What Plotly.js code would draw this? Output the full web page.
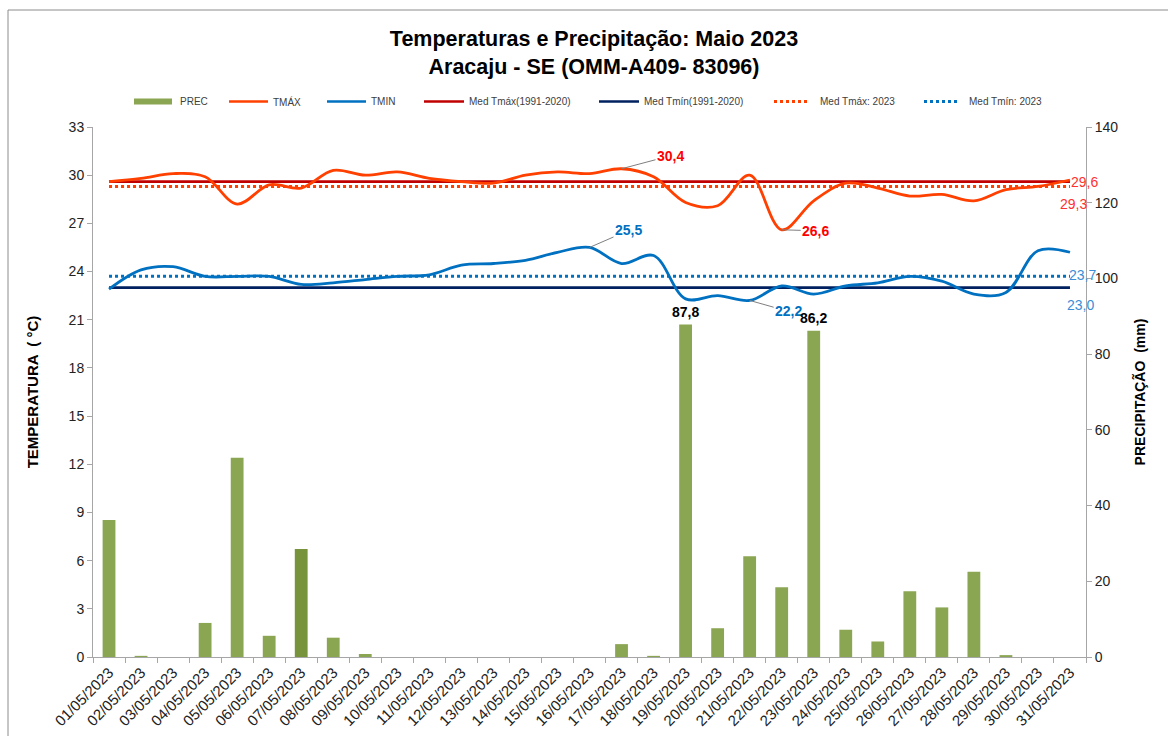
<!DOCTYPE html>
<html>
<head>
<meta charset="utf-8">
<script src="https://cdn.plot.ly/plotly-3.0.1.min.js"></script>
<style>html,body{margin:0;padding:0;background:#fff;}#chart{width:1168px;height:736px;}</style>
</head>
<body>
<div id="chart"></div>
<script>
// ---- data ----
const days = ['01/05/2023','02/05/2023','03/05/2023','04/05/2023','05/05/2023','06/05/2023','07/05/2023','08/05/2023','09/05/2023','10/05/2023',
  '11/05/2023','12/05/2023','13/05/2023','14/05/2023','15/05/2023','16/05/2023','17/05/2023','18/05/2023','19/05/2023','20/05/2023',
  '21/05/2023','22/05/2023','23/05/2023','24/05/2023','25/05/2023','26/05/2023','27/05/2023','28/05/2023','29/05/2023','30/05/2023','31/05/2023'];
const prec = [36.2,0.3,0,9.0,52.6,5.6,28.5,5.1,0.8,0,0,0,0,0,0,0,3.4,0.3,87.8,7.6,26.6,18.4,86.2,7.2,4.1,17.4,13.1,22.5,0.5,0,0];
const tmax = [29.6,29.8,30.1,29.9,28.2,29.4,29.2,30.3,30.0,30.2,29.8,29.6,29.5,30.0,30.2,30.1,30.4,29.9,28.3,28.1,30.0,26.6,28.4,29.5,29.2,28.7,28.8,28.4,29.1,29.3,29.7];
const tmin = [22.9,24.1,24.3,23.7,23.7,23.7,23.2,23.3,23.5,23.7,23.8,24.4,24.5,24.7,25.2,25.5,24.5,25.0,22.3,22.5,22.2,23.1,22.6,23.1,23.3,23.7,23.4,22.6,22.7,25.3,25.2];
const medTmaxNormal = 29.6;   // Med Tmáx(1991-2020)
const medTminNormal = 23.0;   // Med Tmín(1991-2020)
const medTmax2023 = 29.3;
const medTmin2023 = 23.7;
const legendNames = ['PREC','TMÁX','TMIN','Med Tmáx(1991-2020)','Med Tmín(1991-2020)','Med Tmáx: 2023','Med Tmín: 2023'];

// ---- styles ----
const C = {
  prec:'#8BA652', precDark:'#77933C', tmax:'#FF4000', tmin:'#0070C0',
  medTmax:'#C00000', medTmin:'#002060', axis:'#A6A6A6', text:'#404040'
};
const FONT = 'Liberation Sans, Arial, sans-serif';
const M = {l:93, r:82, t:127, b:79};
const W = 1168, H = 736;
const PW = W - M.l - M.r, PH = H - M.t - M.b;
const px = x => (x - M.l) / PW;
const py = y => (H - M.b - y) / PH;
const fmt = v => v.toFixed(1).replace('.', ',');
const fill = v => days.map(() => v);

const precColors = prec.map((v, i) => i === 6 ? C.precDark : C.prec);

const traces = [
  {type:'bar', x:days, y:prec, yaxis:'y2', width:0.4, name:legendNames[0], showlegend:false,
   marker:{color:precColors, line:{width:0}}},
  {type:'scatter', mode:'lines', x:days, y:fill(medTmaxNormal), name:legendNames[3], showlegend:false,
   line:{color:C.medTmax, width:2.6}},
  {type:'scatter', mode:'lines', x:days, y:fill(medTminNormal), name:legendNames[4], showlegend:false,
   line:{color:C.medTmin, width:2.6}},
  {type:'scatter', mode:'lines', x:days, y:fill(medTmax2023), name:legendNames[5], showlegend:false,
   line:{color:C.tmax, width:3, dash:'dot'}},
  {type:'scatter', mode:'lines', x:days, y:fill(medTmin2023), name:legendNames[6], showlegend:false,
   line:{color:C.tmin, width:3, dash:'dot'}},
  {type:'scatter', mode:'lines', x:days, y:tmax, name:legendNames[1], showlegend:false,
   line:{color:C.tmax, width:2.8, shape:'spline', smoothing:1}},
  {type:'scatter', mode:'lines', x:days, y:tmin, name:legendNames[2], showlegend:false,
   line:{color:C.tmin, width:2.8, shape:'spline', smoothing:1}}
];

// ---- manual legend ----
const legendY = 101.5;
const legendSpec = [
  {kind:'bar',  x0:134, x1:172, tx:178, color:C.prec},
  {kind:'line', x0:229, x1:268, tx:271, color:C.tmax},
  {kind:'line', x0:327, x1:366, tx:369, color:C.tmin},
  {kind:'line', x0:424, x1:464, tx:467, color:C.medTmax},
  {kind:'line', x0:599, x1:639, tx:642, color:C.medTmin},
  {kind:'dot',  x0:774, x1:810, tx:818, color:C.tmax},
  {kind:'dot',  x0:924, x1:960, tx:967, color:C.tmin}
];
const shapes = [];
const annotations = [];
legendSpec.forEach((s, i) => {
  if (s.kind === 'bar') {
    shapes.push({type:'rect', xref:'paper', yref:'paper', x0:px(s.x0), x1:px(s.x1), y0:py(legendY+3), y1:py(legendY-3),
      fillcolor:s.color, line:{width:0}});
  } else {
    shapes.push({type:'line', xref:'paper', yref:'paper', x0:px(s.x0), x1:px(s.x1), y0:py(legendY), y1:py(legendY),
      line:{color:s.color, width:s.kind === 'dot' ? 3 : 2.6, dash:s.kind === 'dot' ? 'dot' : 'solid'}});
  }
  annotations.push({xref:'paper', yref:'paper', x:px(s.tx), y:py(legendY), xanchor:'left', yanchor:'middle',
    text:legendNames[i], showarrow:false, font:{family:FONT, size:10, color:C.text}});
});
// chart border
shapes.push({type:'rect', xref:'paper', yref:'paper', x0:px(8), x1:px(1200), y0:py(760), y1:py(10),
  line:{color:'#8C8C8C', width:1}, fillcolor:'rgba(0,0,0,0)'});

// ---- data labels ----
const iMaxPeak = 16, iMinPeak = 15, iMinLow = 20, iMaxLow = 21;
const lbl = (i, arr, ax, ay, color) => ({x:days[i], y:arr[i], xref:'x', yref:'y', text:fmt(arr[i]),
  showarrow:true, arrowhead:0, arrowwidth:1, arrowcolor:'#7F7F7F', ax:ax, ay:ay, standoff:0,
  font:{family:FONT, size:14, color:color, weight:'bold'}});
annotations.push(lbl(iMaxPeak, tmax, 49, -13, '#FF0000'));
annotations.push(lbl(iMinPeak, tmin, 39, -17, C.tmin));
annotations.push(lbl(iMinLow, tmin, 39, 11, C.tmin));
annotations.push(lbl(iMaxLow, tmax, 34, 1, '#FF0000'));
[18, 22].forEach(i => annotations.push({x:days[i], y:prec[i], xref:'x', yref:'y2', text:fmt(prec[i]),
  showarrow:false, yanchor:'bottom', yshift:3, font:{family:FONT, size:14, color:'#000', weight:'bold'}}));
const last = days[days.length - 1];
const endLbl = (v, xs, ys, color) => ({x:last, y:v, xref:'x', yref:'y', text:fmt(v), showarrow:false,
  xanchor:'left', yanchor:'middle', xshift:xs, yshift:ys, font:{family:FONT, size:14, color:color}});
annotations.push(endLbl(medTmaxNormal, -1, 0, '#FF3030'));
annotations.push(endLbl(medTmax2023, -12, -18, '#FF3030'));
annotations.push(endLbl(medTmin2023, -3, 1, '#3A8DD6'));
annotations.push(endLbl(medTminNormal, -5, -17, '#3A8DD6'));

const layout = {
  width:W, height:H, margin:M, paper_bgcolor:'#fff', plot_bgcolor:'#fff',
  font:{family:FONT, color:C.text},
  title:{text:'Temperaturas e Precipitação: Maio 2023<br>Aracaju - SE (OMM-A409- 83096)',
    x:594/W, xanchor:'center', xref:'container', y:1-46/H, yanchor:'top', yref:'container',
    font:{family:FONT, size:21.5, color:'#000', weight:'bold'}},
  showlegend:false, bargap:0.6,
  xaxis:{type:'category', tickson:'boundaries', ticks:'outside', ticklen:5, tickcolor:C.axis,
    showline:true, linecolor:C.axis, linewidth:1, showgrid:false, tickangle:-45,
    tickfont:{family:FONT, size:15, color:'#222'}, range:[-0.5, days.length - 0.5]},
  yaxis:{range:[0,33], tick0:0, dtick:3, ticks:'outside', ticklen:5, tickcolor:C.axis,
    showline:true, linecolor:C.axis, showgrid:false, zeroline:false,
    tickfont:{family:FONT, size:14, color:'#222'},
    title:{text:'TEMPERATURA  ( °C)', standoff:26, font:{family:FONT, size:15, color:'#000', weight:'bold'}}},
  yaxis2:{range:[0,140], tick0:0, dtick:20, side:'right', overlaying:'y', ticks:'outside', ticklen:5,
    tickcolor:C.axis, showline:true, linecolor:C.axis, showgrid:false, zeroline:false,
    tickfont:{family:FONT, size:14, color:'#222'},
    title:{text:'PRECIPITAÇÃO  (mm)', standoff:17, font:{family:FONT, size:14, color:'#000', weight:'bold'}}},
  shapes:shapes, annotations:annotations
};

Plotly.newPlot('chart', traces, layout, {staticPlot:true, displayModeBar:false});
</script>
</body>
</html>
